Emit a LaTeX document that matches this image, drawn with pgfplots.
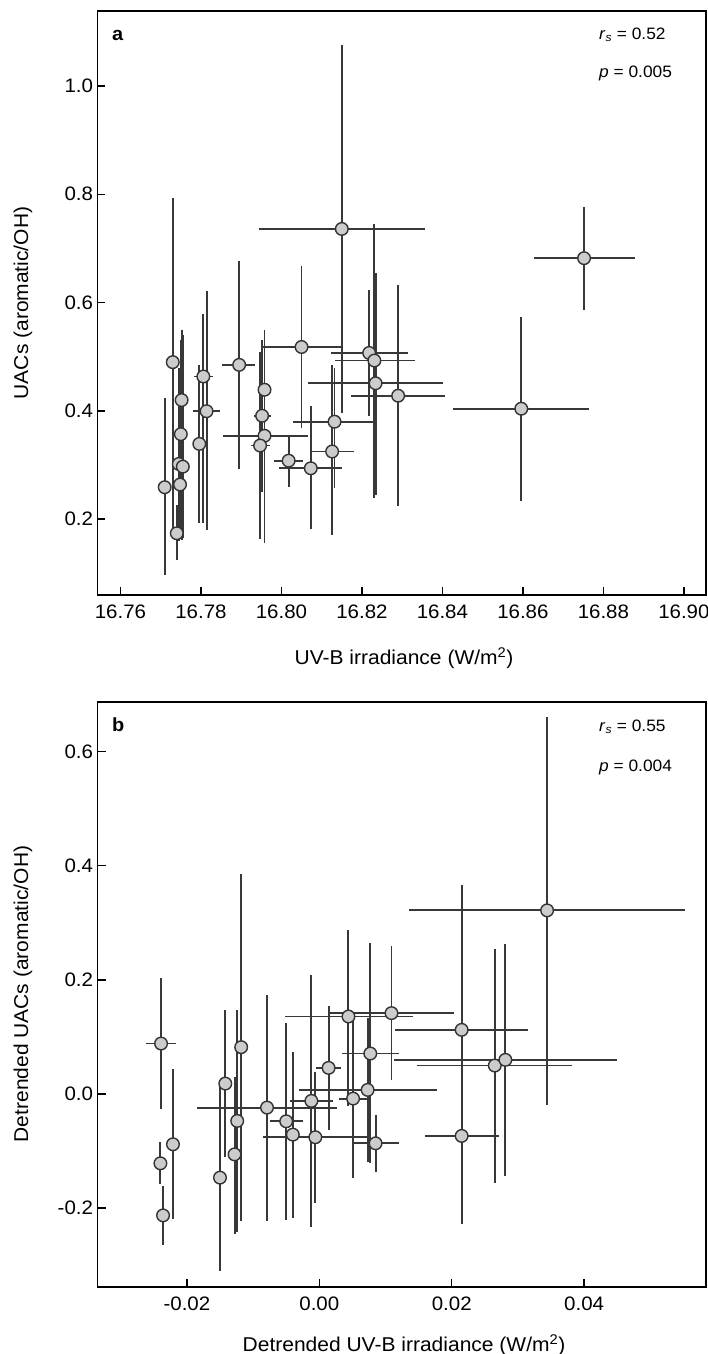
\documentclass[border=0pt]{standalone}
\usepackage{pgfplots}
\pgfplotsset{compat=1.18}
\usepackage{pgfplotstable}
\usepackage{fontspec}
\setmainfont[FakeStretch=1.05]{Liberation Sans}
\definecolor{ptfill}{HTML}{CCCCCC}
\definecolor{ptdraw}{HTML}{333333}
\definecolor{barc}{HTML}{383838}

\pgfplotstableread{
x y xlo xhi ylo yhi
16.7710 0.259 16.7710 16.7710 0.096 0.423
16.7730 0.490 16.7730 16.7730 0.167 0.794
16.7740 0.174 16.7740 16.7740 0.124 0.227
16.7752 0.420 16.7752 16.7752 0.161 0.550
16.7750 0.357 16.7750 16.7750 0.200 0.530
16.7745 0.302 16.7745 16.7745 0.160 0.480
16.7755 0.297 16.7755 16.7755 0.165 0.540
16.7748 0.264 16.7748 16.7748 0.180 0.370
16.7806 0.4635 16.7783 16.7831 0.193 0.579
16.7814 0.3994 16.7781 16.7847 0.180 0.621
16.7796 0.339 16.7796 16.7796 0.193 0.485
16.7895 0.485 16.7852 16.7935 0.292 0.677
16.7958 0.354 16.7854 16.8065 0.156 0.550
16.7958 0.439 16.7945 16.7975 0.251 0.530
16.7952 0.391 16.7932 16.7975 0.251 0.531
16.7947 0.336 16.7925 16.7972 0.163 0.509
16.8050 0.518 16.7954 16.8148 0.368 0.668
16.8018 0.308 16.7982 16.8053 0.260 0.356
16.8073 0.294 16.7994 16.8151 0.181 0.409
16.8132 0.380 16.8028 16.8232 0.257 0.479
16.8126 0.325 16.8071 16.8181 0.170 0.485
16.8150 0.736 16.7945 16.8358 0.396 1.075
16.8218 0.507 16.8124 16.8314 0.390 0.623
16.8231 0.493 16.8132 16.8332 0.239 0.746
16.8234 0.451 16.8066 16.8402 0.245 0.654
16.8290 0.428 16.8173 16.8407 0.224 0.633
16.8596 0.404 16.8427 16.8765 0.233 0.574
16.8752 0.682 16.8627 16.8878 0.587 0.777
}\dataA

\pgfplotstableread{
x y xlo xhi ylo yhi
-0.0239 0.0883 -0.0262 -0.0216 -0.027 0.203
-0.0221 -0.0883 -0.0221 -0.0221 -0.220 0.043
-0.0240 -0.1217 -0.0240 -0.0240 -0.1585 -0.0848
-0.0236 -0.213 -0.0236 -0.0236 -0.265 -0.161
-0.0150 -0.1468 -0.0150 -0.0150 -0.310 0.020
-0.0142 0.0181 -0.0142 -0.0142 -0.110 0.147
-0.0128 -0.106 -0.0128 -0.0128 -0.245 0.030
-0.0124 -0.0474 -0.0124 -0.0124 -0.242 0.147
-0.0118 0.0819 -0.0118 -0.0118 -0.223 0.385
-0.0079 -0.024 -0.0184 0.0027 -0.222 0.173
-0.0050 -0.048 -0.0074 -0.0025 -0.221 0.124
-0.0040 -0.0714 -0.0040 -0.0040 -0.218 0.074
-0.0006 -0.076 -0.0085 0.0074 -0.192 0.039
-0.0012 -0.0123 -0.0045 0.0021 -0.233 0.209
0.0014 0.0456 -0.0005 0.0033 -0.064 0.154
0.0044 0.1357 -0.0052 0.0142 -0.022 0.287
0.0051 -0.0082 0.0029 0.0074 -0.148 0.130
0.0077 0.0708 0.0035 0.0120 -0.122 0.264
0.0073 0.0070 -0.0030 0.0178 -0.119 0.133
0.0085 -0.0866 0.0050 0.0121 -0.137 -0.037
0.0109 0.1416 0.0014 0.0204 0.025 0.259
0.0215 0.1123 0.0115 0.0315 -0.142 0.367
0.0215 -0.0737 0.0160 0.0271 -0.228 0.083
0.0265 0.0497 0.0147 0.0381 -0.156 0.254
0.0281 0.0597 0.0113 0.0450 -0.144 0.263
0.0344 0.3217 0.0136 0.0552 -0.019 0.661
}\dataB

\pgfplotsset{
  panel/.style={
    anchor=south west,
    scale only axis,
    width=608.5pt,
    axis line style={line width=1.8pt, black},
    tick align=inside,
    tick pos=left,
    major tick length=8pt,
    every tick/.style={line width=1.5pt, black},
    ticklabel style={font=\fontsize{19.5}{21}\selectfont, text=black},
    xticklabel style={yshift=-6pt},
    yticklabel style={xshift=-1pt},
    scaled x ticks=false,
    scaled y ticks=false,
    clip=false,
  },
  errstyle/.style={
    only marks,
    mark=*,
    mark size=6.3pt,
    mark options={fill=ptfill, draw=ptdraw, line width=1.4pt},
    error bars/.cd,
      x dir=both, x explicit,
      y dir=both, y explicit,
      error mark=none,
      error bar style={line width=1.9pt, color=barc},
  },
}

\begin{document}
\begin{tikzpicture}
\useasboundingbox (0pt,0pt) rectangle (708pt,1354pt);

% Panel a
\begin{axis}[panel,
  at={(97.5pt,759pt)}, height=584pt,
  xmin=16.7543, xmax=16.9055,
  ymin=0.060, ymax=1.1385,
  xtick={16.76,16.78,16.80,16.82,16.84,16.86,16.88,16.90},
  xticklabels={16.76,16.78,16.80,16.82,16.84,16.86,16.88,16.90},
  ytick={0.2,0.4,0.6,0.8,1.0},
  yticklabels={0.2,0.4,0.6,0.8,1.0},
]
\addplot+[errstyle] table[x=x, y=y,
  x error plus expr=\thisrow{xhi}-\thisrow{x},
  x error minus expr=\thisrow{x}-\thisrow{xlo},
  y error plus expr=\thisrow{yhi}-\thisrow{y},
  y error minus expr=\thisrow{y}-\thisrow{ylo}] {\dataA};
\end{axis}

% Panel b
\begin{axis}[panel,
  at={(97.5pt,67pt)}, height=585pt,
  xmin=-0.0335, xmax=0.0584,
  ymin=-0.3385, ymax=0.687,
  xtick={-0.02,0,0.02,0.04},
  xticklabels={-0.02,0.00,0.02,0.04},
  ytick={-0.2,0,0.2,0.4,0.6},
  yticklabels={-0.2,0.0,0.2,0.4,0.6},
]
\addplot+[errstyle] table[x=x, y=y,
  x error plus expr=\thisrow{xhi}-\thisrow{x},
  x error minus expr=\thisrow{x}-\thisrow{xlo},
  y error plus expr=\thisrow{yhi}-\thisrow{y},
  y error minus expr=\thisrow{y}-\thisrow{ylo}] {\dataB};
\end{axis}

% Labels
\begin{scope}[every node/.style={font=\fontsize{20}{22}\selectfont, inner sep=0pt}]
\node at (404pt,{1354pt-658pt}) {UV-B irradiance (W/m\textsuperscript{2})};
\node at (404pt,{1354pt-1345pt}) {Detrended UV-B irradiance (W/m\textsuperscript{2})};
\node[rotate=90] at (23pt,{1354pt-303pt}) {UACs (aromatic/OH)};
\node[rotate=90] at (23pt,{1354pt-994pt}) {Detrended UACs (aromatic/OH)};
\end{scope}

\begin{scope}[every node/.style={font=\fontsize{16.5}{18}\selectfont, inner sep=0pt, anchor=west}]
\node[font=\fontsize{19}{21}\selectfont\bfseries] at (112pt,{1354pt-35pt}) {a};
\node[font=\fontsize{19}{21}\selectfont\bfseries] at (112pt,{1354pt-725pt}) {b};
\node at (599pt,{1354pt-35pt}) {\textit{r}\textsubscript{\textit{s}} = 0.52};
\node at (599pt,{1354pt-73pt}) {\textit{p} = 0.005};
\node at (599pt,{1354pt-727pt}) {\textit{r}\textsubscript{\textit{s}} = 0.55};
\node at (599pt,{1354pt-767pt}) {\textit{p} = 0.004};
\end{scope}
\end{tikzpicture}
\end{document}
